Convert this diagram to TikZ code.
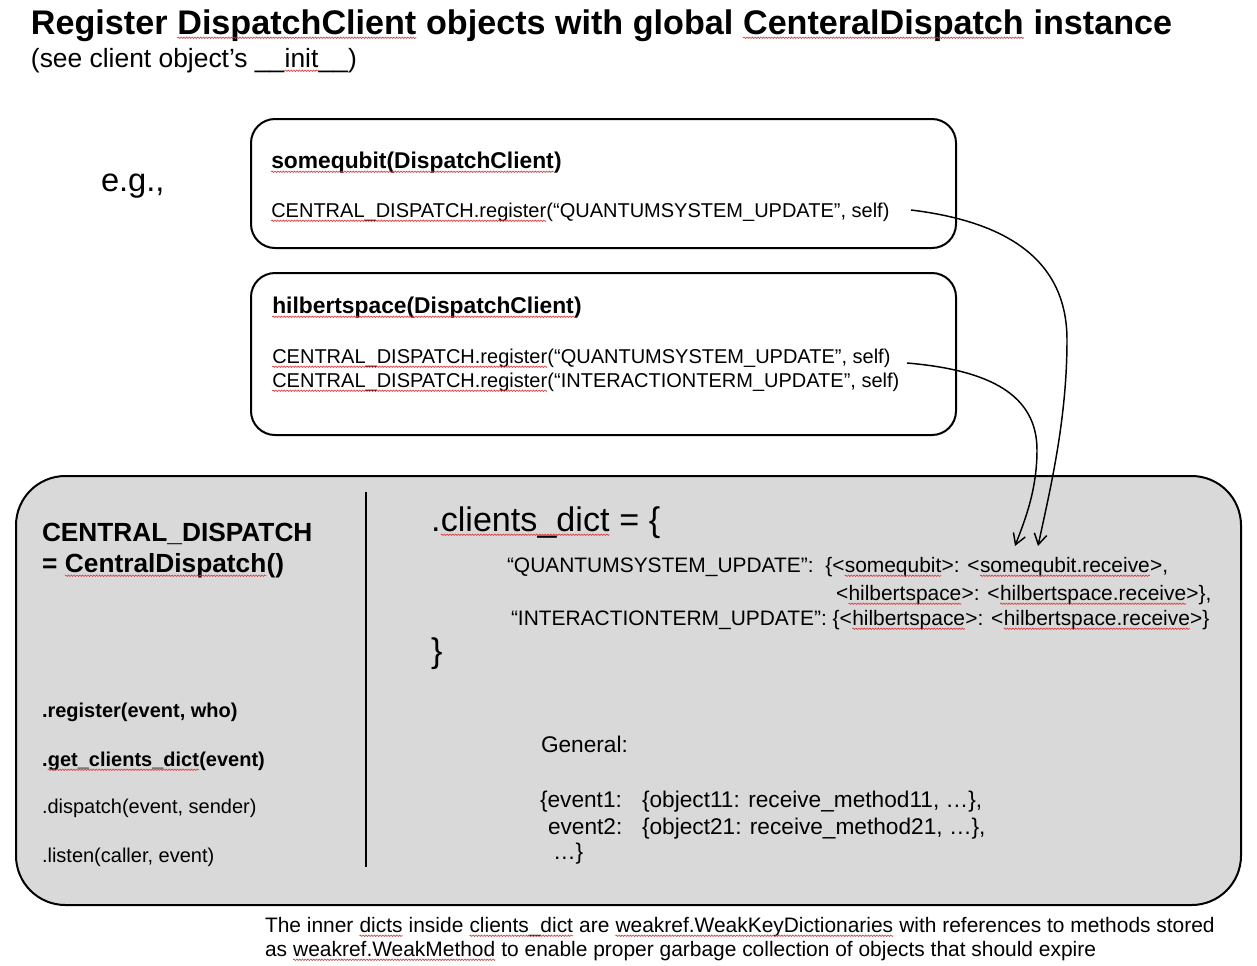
\documentclass[tikz,border=0pt]{standalone}
\usepackage{fontspec}
\setmainfont{Liberation Sans}
\usetikzlibrary{arrows.meta,decorations.pathmorphing}
\definecolor{panelgray}{RGB}{217,217,217}
\definecolor{spellred}{RGB}{225,50,50}
\newcommand\fsz[1]{\fontsize{#1pt}{#1pt}\selectfont}
\tikzset{
  squig/.style={draw=spellred, line width=0.45pt, decorate,
    decoration={snake, amplitude=0.55pt, segment length=2.1pt}},
  lbl/.style={anchor=base west, inner sep=0pt, outer sep=0pt},
  headline/.style={lbl, font={\bfseries\fsz{25.6}}},
  subline/.style={lbl, font={\fsz{19.8}}},
  boxhead/.style={lbl, font={\bfseries\fsz{17.1}}},
  codeline/.style={lbl, font={\fsz{15}}},
  codebold/.style={lbl, font={\bfseries\fsz{15}}},
  dispname/.style={lbl, font={\bfseries\fsz{19.7}}},
  bigcode/.style={lbl, font={\fsz{25.6}}},
  dictline/.style={lbl, font={\fsz{15.7}}},
  genline/.style={lbl, font={\fsz{17}}},
  clientbox/.style={draw, line width=1.5pt, rounded corners=18pt,
    inner sep=0pt, minimum width=528.75pt},
  panel/.style={draw, line width=1.5pt, fill=panelgray, rounded corners=37pt,
    inner sep=0pt, minimum width=918.75pt, minimum height=321.75pt},
  link/.style={line width=1.1pt, -{Straight Barb[length=8pt,width=9.5pt]}},
}
% wavy spell-check underline under a word
\newcommand\sq[1]{\tikz[baseline=(sqw.base)]{\node[inner sep=0pt,outer sep=0pt](sqw){#1};\draw[squig]([yshift=-2.8pt]sqw.base west)--([yshift=-2.8pt]sqw.base east);}}
\begin{document}
\begin{tikzpicture}[x=0.75pt,y=-0.75pt]
\useasboundingbox (0,0) rectangle (1257,965);

% heading
\node[headline] (title) at (31,34) {Register \sq{DispatchClient} objects with global \sq{CenteralDispatch} instance};
\node[subline] (subtitle) at (31,67) {(see client object’s \_\_\sq{init}\_\_)};
\node[lbl, font={\fsz{24.5}}] (eg) at (101,191) {e.g.,};

% client boxes
\node[clientbox, minimum height=96.75pt] (box1) at (603.5,183.5) {};
\node[boxhead] (b1head) at (271,168) {\sq{somequbit(DispatchClient})};
\node[codeline] (b1reg) at (271,217) {\sq{CENTRAL\_DISPATCH.register}(“QUANTUMSYSTEM\_UPDATE”, self)};

\node[clientbox, minimum height=121.5pt] (box2) at (603.5,354) {};
\node[boxhead] (b2head) at (272,313) {\sq{hilbertspace(DispatchClient})};
\node[codeline] (b2rega) at (272,363) {\sq{CENTRAL\_DISPATCH.register}(“QUANTUMSYSTEM\_UPDATE”, self)};
\node[codeline] (b2regb) at (272,387) {\sq{CENTRAL\_DISPATCH.register}(“INTERACTIONTERM\_UPDATE”, self)};

% central dispatch panel
\node[panel] (central) at (628.5,690.5) {};
\coordinate (septop) at (366,492);
\coordinate (sepbot) at (366,867);
\draw[line width=0.8pt] (septop) -- (sepbot);

\node[dispname] (cdname) at (42,541) {CENTRAL\_DISPATCH};
\node[dispname] (cdctor) at (42,572) {= \sq{CentralDispatch}()};

\node[codebold] (mreg) at (42,717) {.register(event, who)};
\node[codebold] (mget) at (42,766) {.\sq{get\_clients\_dict}(event)};
\node[codeline] (mdisp) at (42,813) {.dispatch(event, sender)};
\node[codeline] (mlisten) at (42,862) {.listen(caller, event)};

\node[bigcode] (dictopen) at (431,531) {.\sq{clients\_dict} = \{};
\node[dictline] (d1) at (507,572) {“QUANTUMSYSTEM\_UPDATE”:\ \ \{<\sq{somequbit}>: <\sq{somequbit.receive}>,};
\node[dictline] (d2) at (836,600) {<\sq{hilbertspace}>: <\sq{hilbertspace.receive}>\},};
\node[dictline] (d3) at (511,625) {“INTERACTIONTERM\_UPDATE”: \{<\sq{hilbertspace}>: <\sq{hilbertspace.receive}>\}};
\node[bigcode] (dictclose) at (431,662) {\}};

\node[genline] (general) at (541,752) {General:};
\node[genline] (ev1) at (540,807) {\{event1:};
\node[genline] (ob1) at (642,807) {\{object11: receive\_method11, …\},};
\node[genline] (ev2) at (548,834) {event2:};
\node[genline] (ob2) at (642,834) {\{object21: receive\_method21, …\},};
\node[genline] (evmore) at (553,859) {…\}};

% footnote
\node[dictline] (notea) at (265,932) {The inner \sq{dicts} inside \sq{clients\_dict} are \sq{weakref.WeakKeyDictionaries} with references to methods stored};
\node[dictline] (noteb) at (265,956) {as \sq{weakref.WeakMethod} to enable proper garbage collection of objects that should expire};

% registration arrows
\coordinate (a1s) at (911,210);
\coordinate (a1e) at (1038,546);
\coordinate (a2s) at (907,363);
\coordinate (a2e) at (1015,546);
\draw[link] (a1s) .. controls (1010,222) and (1067,262) .. (1067,340)
               .. controls (1067,420) and (1050,490) .. (a1e);
\draw[link] (a2s) .. controls (990,370) and (1037,395) .. (1037,450)
               .. controls (1037,490) and (1025,520) .. (a2e);
\end{tikzpicture}
\end{document}
